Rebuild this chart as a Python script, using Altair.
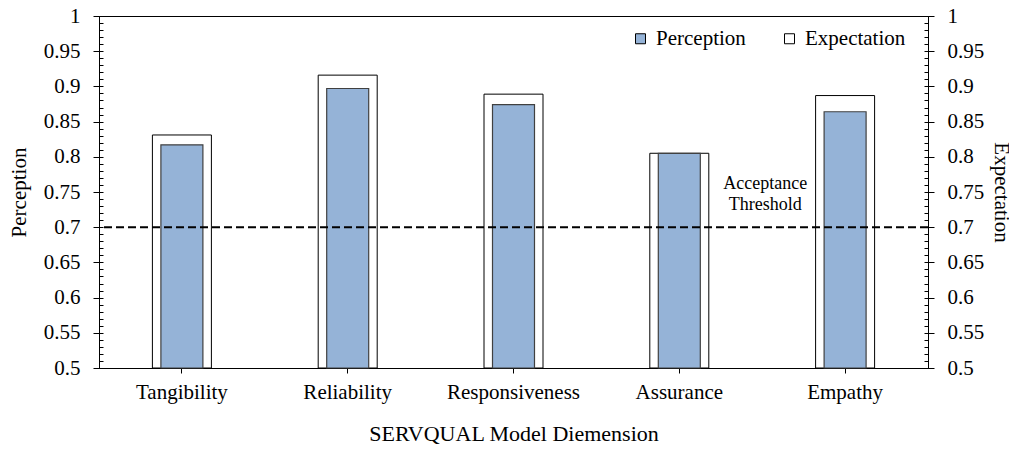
import altair as alt
import pandas as pd

# ---- data ----
categories = ["Tangibility", "Reliability", "Responsiveness", "Assurance", "Empathy"]
perception = [0.817, 0.897, 0.874, 0.805, 0.864]
expectation = [0.831, 0.916, 0.889, 0.805, 0.887]
series = ["Perception", "Expectation"]
series_fill = ["#95B3D7", "#FFFFFF"]
threshold = [0.7]
threshold_text = ["Acceptance\nThreshold"]
threshold_text_at = ["Assurance"]
threshold_text_y = [0.761]
y_ticks = [0.5, 0.55, 0.6, 0.65, 0.7, 0.75, 0.8, 0.85, 0.9, 0.95, 1.0]
minor_ticks = [round(0.5 + 0.01 * i, 2) for i in range(51)]

rows = []
for c, p, e in zip(categories, perception, expectation):
    rows.append({"Dimension": c, "Series": "Perception", "Value": p})
    rows.append({"Dimension": c, "Series": "Expectation", "Value": e})
df = pd.DataFrame(rows)

FONT = "'Liberation Serif', 'Times New Roman', Times, 'DejaVu Serif', serif"
yscale = alt.Scale(domain=[0.5, 1.0], zero=False, nice=False)
xscale = alt.Scale(domain=categories, paddingInner=0, paddingOuter=0)

x_axis = alt.Axis(
    title="SERVQUAL Model Diemension", labelAngle=0, tickSize=5, labelPadding=8,
    titlePadding=21, labelFontSize=21, titleFontSize=22, labelFont=FONT, titleFont=FONT,
    titleFontWeight="normal", domainColor="black", tickColor="black",
    labelColor="black", titleColor="black", grid=False, orient="bottom",
)
xenc = alt.X("Dimension:N", scale=xscale, axis=x_axis)

def major_axis(orient, title, title_pad):
    return alt.Axis(
        orient=orient, values=y_ticks, format=".2~f", title=title, tickSize=6,
        labelPadding=13, titlePadding=title_pad, labelFontSize=21, titleFontSize=21,
        labelFont=FONT, titleFont=FONT, titleFontWeight="normal",
        domainColor="black", tickColor="black", labelColor="black",
        titleColor="black", grid=False,
    )

def minor_axis(orient):
    return alt.Axis(
        orient=orient, values=minor_ticks, labels=False, domain=False,
        tickSize=4, offset=-4, title=None, grid=False, tickColor="black",
    )

color = alt.Color(
    "Series:N",
    scale=alt.Scale(domain=series, range=series_fill),
    legend=alt.Legend(
        title=None, orient="none", legendX=531, legendY=12, direction="horizontal",
        symbolType="square", symbolSize=100, symbolStrokeColor="black",
        symbolStrokeWidth=1, symbolOpacity=1, labelFont=FONT, labelFontSize=21,
        labelColor="black", labelOffset=5, columnPadding=33, padding=0,
    ),
)

base = alt.Chart(df)

exp_bars = base.transform_filter(alt.datum.Series == "Expectation").mark_bar(
    size=59, stroke="black", strokeWidth=1
).encode(
    x=xenc,
    y=alt.Y("Value:Q", scale=yscale, axis=major_axis("left", "Perception", 14)),
    y2=alt.datum(0.5),
    color=color,
)

perc_bars = base.transform_filter(alt.datum.Series == "Perception").mark_bar(
    size=42, stroke="#404040", strokeWidth=1.2
).encode(
    x=xenc,
    y=alt.Y("Value:Q", scale=yscale, axis=major_axis("right", "Expectation", 7)),
    y2=alt.datum(0.5),
    color=color,
)

minor_left = base.mark_point(opacity=0).encode(
    x=xenc, y=alt.Y("Value:Q", scale=yscale, axis=minor_axis("left"))
)
minor_right = base.mark_point(opacity=0).encode(
    x=xenc, y=alt.Y("Value:Q", scale=yscale, axis=minor_axis("right"))
)

rule = alt.Chart(pd.DataFrame({"t": threshold})).mark_rule(
    color="black", strokeWidth=2, strokeDash=[8, 4]
).encode(y=alt.Y("t:Q", scale=yscale, axis=None))

label = alt.Chart(
    pd.DataFrame({"Dimension": threshold_text_at, "label": threshold_text, "Value": threshold_text_y})
).mark_text(
    font=FONT, fontSize=18, color="black", lineBreak="\n", lineHeight=21,
    align="center", baseline="middle", dx=86,
).encode(
    x=xenc,
    y=alt.Y("Value:Q", scale=yscale, axis=None),
    text="label:N",
)

chart = alt.layer(
    exp_bars, perc_bars, minor_left, minor_right, rule, label
).properties(
    width=829, height=352,
    autosize=alt.AutoSizeParams(type="none"),
    padding={"left": 91, "top": 8, "right": 81, "bottom": 76},
).configure_view(stroke="black", strokeWidth=1)

chart.save("out.html", embed_options={"renderer": "svg", "actions": False})
